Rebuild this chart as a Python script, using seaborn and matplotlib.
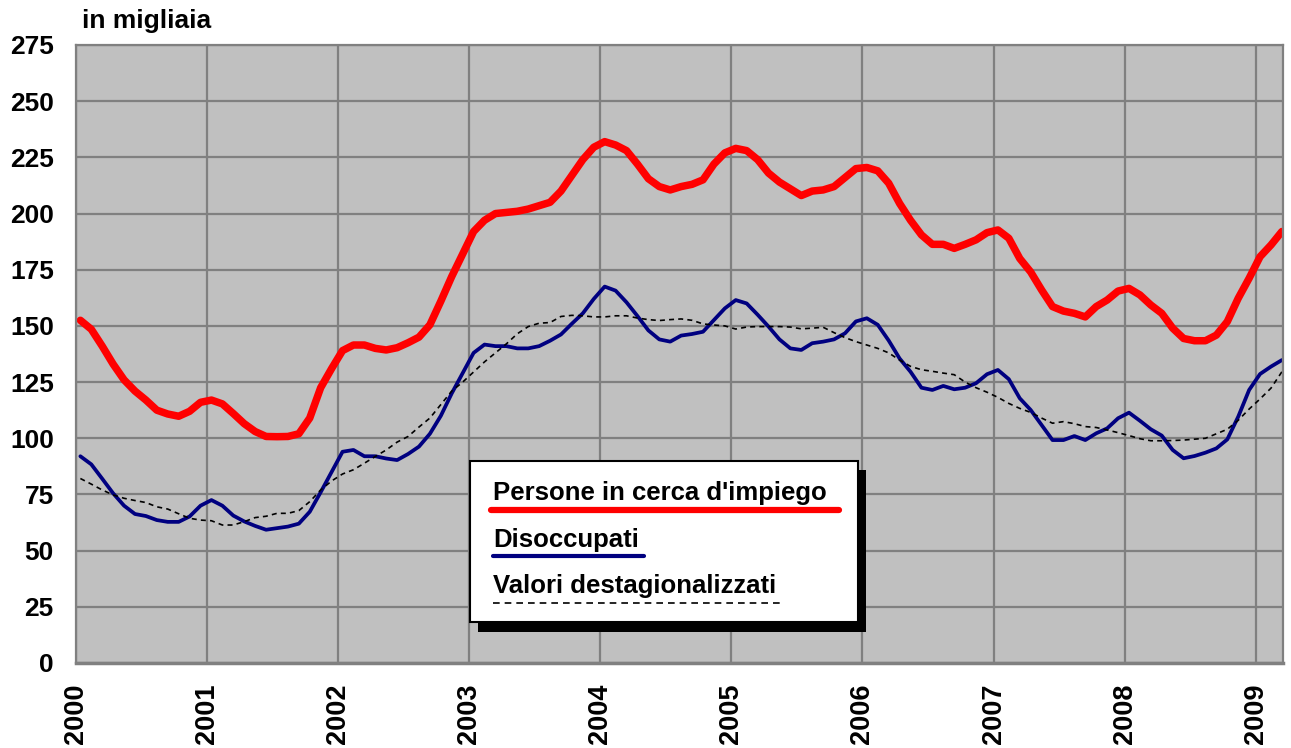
import numpy as np
import pandas as pd
import seaborn as sns
import matplotlib.pyplot as plt
from matplotlib.patches import Rectangle
from matplotlib.lines import Line2D

# --- data (monthly, Jan 2000 - Mar 2009), thousands ---
years = [str(y) for y in range(2000, 2010)]
persone = [152.5, 148.5, 141, 133, 126, 121, 117, 112.5, 110.8, 109.8, 112, 116,
           117, 115.3, 111, 106.5, 103, 100.8, 100.7, 100.8, 102, 109, 122.5, 131,
           139, 141.5, 141.5, 140, 139.3, 140.3, 142.5, 145, 150.5, 161, 172, 182,
           192, 197, 200, 200.5, 201, 202, 203.5, 205, 210, 217, 224, 229.5,
           232, 230.5, 228, 222, 215.5, 212, 210.5, 212, 213, 215, 222, 227,
           229, 228, 224, 218, 214, 211, 208, 210, 210.5, 212, 216, 220,
           220.5, 219, 213.5, 204.5, 197, 190.5, 186.3, 186.3, 184.5, 186.3, 188.3, 191.5,
           192.7, 189, 180, 174, 166, 158.6, 156.6, 155.6, 154, 158.6, 161.5, 165.5,
           166.7, 163.8, 159.3, 155.6, 149, 144.4, 143.4, 143.4, 145.9, 151.9, 162.3, 171.2,
           180.8, 186, 192]
disoccupati = [92, 88.4, 82, 75.5, 70, 66.3, 65.4, 63.6, 62.8, 62.8, 65.2, 70,
               72.5, 70, 65.6, 63, 61, 59.3, 60, 60.7, 62, 67.3, 76, 85,
               94, 94.8, 92, 92, 91, 90.3, 93, 96.3, 102, 110, 120, 129,
               138, 141.7, 141, 141, 140, 140, 141, 143.4, 146.2, 151, 155.6, 162,
               167.5, 165.7, 160.5, 154.4, 148, 144, 143, 145.7, 146.4, 147.4, 152.6, 157.8,
               161.5, 160, 155, 149.7, 144, 140, 139.3, 142.3, 143, 144, 146.7, 152,
               153.4, 150.5, 143.5, 135.5, 129.6, 122.5, 121.5, 123.3, 121.8, 122.5, 124.5, 128.5,
               130.4, 126.3, 117.8, 112.6, 105.9, 99.2, 99.2, 101, 99.2, 102.2, 104.4, 108.9,
               111.4, 107.8, 104, 101.2, 94.8, 91.1, 92.1, 93.6, 95.5, 99.5, 109.6, 121.5,
               128.6, 131.9, 134.8]
destag = [82.1, 79.6, 77, 74.8, 73.3, 72.3, 71.4, 69.5, 68.5, 66.4, 64.4, 63.6,
          63.3, 61.4, 61.4, 62.9, 64.7, 65.3, 66.6, 66.6, 67.8, 71.8, 77, 81,
          84.1, 86, 88.9, 91.9, 94.8, 98.3, 100.8, 105, 109, 115, 121, 125,
          129.5, 134, 138, 142, 146.5, 149.7, 151.2, 151.5, 154.2, 154.7, 154.5, 154,
          154, 154.5, 154.5, 153.5, 152.8, 152.4, 152.8, 153.1, 152.5, 150.9, 150.4, 150,
          148.6, 149.5, 149.7, 149.7, 149.7, 149.5, 148.7, 149, 149.4, 147, 144.8, 143,
          141.5, 140, 138, 134.8, 132, 130.5, 129.8, 129, 128.3, 125, 122.5, 120.5,
          118.2, 115.5, 113.3, 111.5, 109, 106.7, 107.4, 106.5, 105.2, 104.8, 103.7, 102.5,
          101.2, 99.8, 98.9, 98.9, 99, 99.2, 99.6, 100, 102, 104, 108, 113,
          117.5, 122.3, 129.6]

df = pd.DataFrame({"mese": np.arange(len(persone)) + 0.4,
                   "persone": persone, "disoccupati": disoccupati, "destag": destag})

sns.set_style("white")
plt.rcParams['font.family'] = ['Liberation Sans', 'DejaVu Sans']
plt.rcParams['font.weight'] = 'bold'
plt.rcParams['text.color'] = 'black'
plt.rcParams['xtick.color'] = 'black'
plt.rcParams['ytick.color'] = 'black'

W, H = 1291, 748
fig = plt.figure(figsize=(W / 100, H / 100), dpi=100)
ax = fig.add_axes([76 / W, 1 - 663 / H, (1283 - 76) / W, (663 - 45) / H])
ax.set_facecolor("#C0C0C0")

sns.lineplot(data=df, x="mese", y="disoccupati", color="#000080", lw=2.7, ax=ax)
sns.lineplot(data=df, x="mese", y="destag", color="black", lw=1.2,
             linestyle=(0, (3, 2.5)), ax=ax)
sns.lineplot(data=df, x="mese", y="persone", color="#FF0000", lw=5.4,
             solid_capstyle="round", solid_joinstyle="round", ax=ax)

ax.set_xlim(0, 110.5)
ax.set_ylim(0, 275)
ax.set_xticks(np.arange(0, 12 * len(years), 12))
ax.set_xticklabels(years, rotation=90)
ax.set_yticks(np.arange(0, 276, 25))
ax.set_xlabel("")
ax.set_ylabel("")
ax.grid(True, color="#808080", lw=1.6)
ax.set_axisbelow(True)
ax.tick_params(axis="both", length=6, width=1.5, color="#808080",
               labelcolor="black", labelsize=19)
ax.tick_params(axis="y", pad=10)
ax.tick_params(axis="x", pad=9, labelsize=19.5)
for s in ax.spines.values():
    s.set_color("#808080")
    s.set_linewidth(1.6)
ax.spines["bottom"].set_linewidth(2.5)

fig.text(82 / W, 1 - 28 / H, "in migliaia", fontsize=19, fontweight="bold",
         color="black", va="baseline")

# --- legend box with shadow ---
def fx(x):
    return x / W

def fy(y):
    return 1 - y / H

fig.patches.append(Rectangle((fx(478), fy(632)), fx(866) - fx(478), fy(470) - fy(632),
                             transform=fig.transFigure, facecolor="black", edgecolor="none", zorder=5))
fig.patches.append(Rectangle((fx(470), fy(622)), fx(858) - fx(470), fy(461) - fy(622),
                             transform=fig.transFigure, facecolor="white", edgecolor="black",
                             lw=1.5, zorder=6))
entries = [("Persone in cerca d'impiego", 500, 510, 491, 839, "#FF0000", 4.5, "-"),
           ("Disoccupati", 547, 556, 493, 644, "#000080", 3, "-"),
           ("Valori destagionalizzati", 593, 603, 493, 781, "black", 1.2, (0, (4, 3)))]
for label, ty, ly, x0, x1, col, lw, ls in entries:
    fig.text(fx(493), fy(ty), label, fontsize=18.5, fontweight="bold", color="black",
             va="baseline", zorder=7)
    fig.lines.append(Line2D([fx(x0), fx(x1)], [fy(ly), fy(ly)], transform=fig.transFigure,
                            color=col, lw=lw, linestyle=ls, zorder=7))

fig.savefig("out.png", dpi=100)
